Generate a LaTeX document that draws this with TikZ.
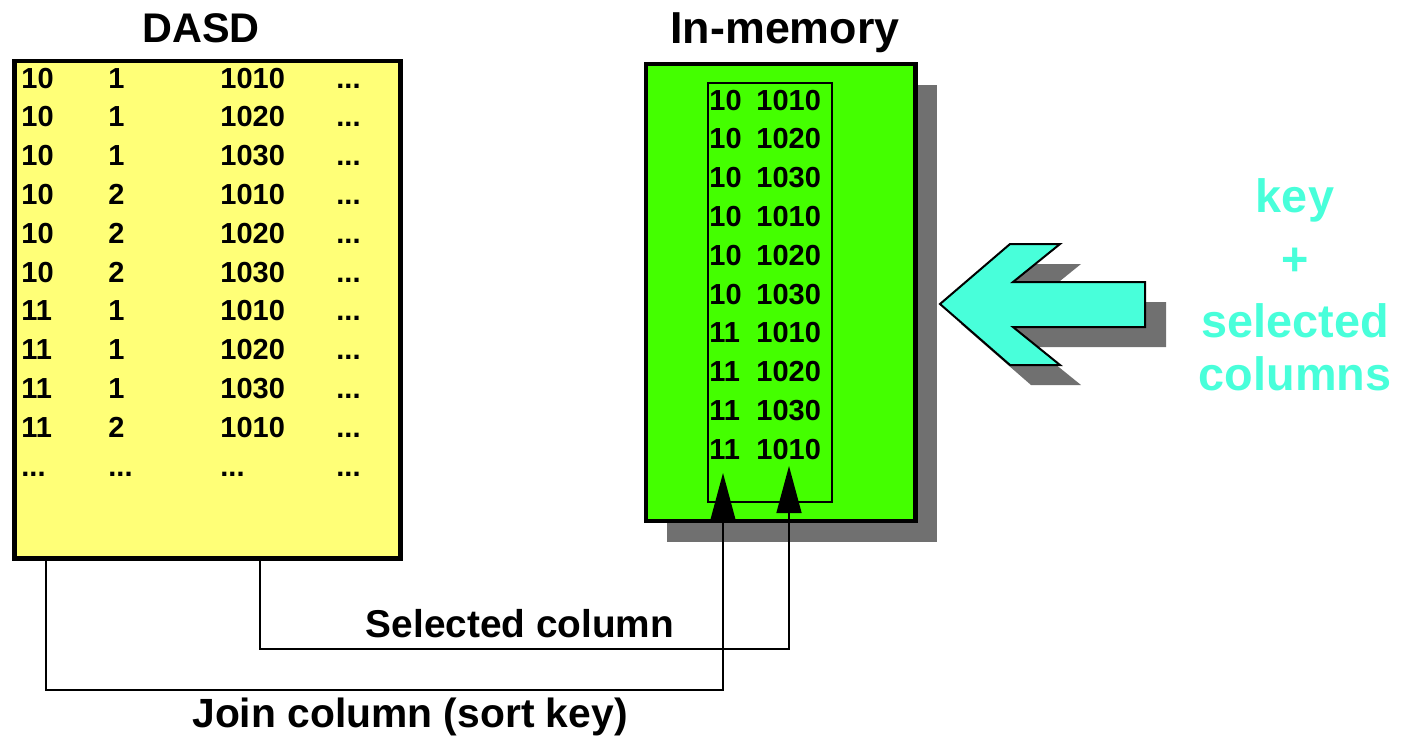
\documentclass[tikz,border=0pt]{standalone}
\usepackage{fontspec}
\setmainfont{Liberation Sans}
\usetikzlibrary{arrows.meta}
\definecolor{dasdfill}{RGB}{255,255,119}
\definecolor{memfill}{RGB}{68,255,0}
\definecolor{shadowgray}{RGB}{112,112,112}
\definecolor{aqua}{RGB}{72,255,218}
\newcommand\tdots{...}
\tikzset{
  cell/.style={anchor=base west, inner sep=0pt, font=\bfseries\fontsize{14.5}{17}\selectfont},
  title/.style={anchor=base, inner sep=0pt, font=\bfseries\fontsize{20.7}{24}\selectfont},
  bigtitle/.style={anchor=base, inner sep=0pt, font=\bfseries\fontsize{22.4}{26}\selectfont},
  label/.style={anchor=base, inner sep=0pt, font=\bfseries\fontsize{19.4}{23}\selectfont},
  biglabel/.style={anchor=base, inner sep=0pt, font=\bfseries\fontsize{20.4}{24}\selectfont},
  aqualabel/.style={anchor=base, inner sep=0pt, text=aqua, font=\bfseries\fontsize{23.4}{28}\selectfont},
  link/.style={line width=0.75pt, -{Triangle[length=23.5pt,width=12.5pt]}},
}
\begin{document}
\begin{tikzpicture}[x=0.5pt,y=-0.5pt]
\useasboundingbox (0,0) rectangle (1404,736);

% titles
\node[title] (tdasd) at (201,42) {DASD};
\node[bigtitle] (tmem) at (785,43) {In-memory};

% DASD table
\node[draw, line width=2.25pt, fill=dasdfill, inner sep=0pt,
      minimum width=193pt, minimum height=248.75pt] (dasd) at (207.5,309.75) {};
\foreach [count=\r] \a/\b/\c/\d in {
    10/1/1010/\tdots, 10/1/1020/\tdots, 10/1/1030/\tdots,
    10/2/1010/\tdots, 10/2/1020/\tdots, 10/2/1030/\tdots,
    11/1/1010/\tdots, 11/1/1020/\tdots, 11/1/1030/\tdots,
    11/2/1010/\tdots, \tdots/\tdots/\tdots/\tdots} {
  \pgfmathsetmacro\yy{88+38.8*(\r-1)}
  \node[cell] (l\r-a) at (21,\yy) {\a};
  \node[cell] (l\r-b) at (108,\yy) {\b};
  \node[cell] (l\r-c) at (220,\yy) {\c};
  \node[cell] (l\r-d) at (336,\yy) {\d};
}

% in-memory store with its shadow
\fill[shadowgray] (667,85) rectangle (936.5,542);
\node[draw, line width=2.25pt, fill=memfill, inner sep=0pt,
      minimum width=134.75pt, minimum height=228.5pt] (mem) at (780.75,292.5) {};
\node[draw, line width=0.6pt, inner sep=0pt,
      minimum width=62pt, minimum height=209.5pt] (sel) at (770,292.5) {};
\foreach [count=\r] \a/\c in {
    10/1010, 10/1020, 10/1030, 10/1010, 10/1020,
    10/1030, 11/1010, 11/1020, 11/1030, 11/1010} {
  \pgfmathsetmacro\yy{110+38.8*(\r-1)}
  \node[cell] (m\r-a) at (709,\yy) {\a};
  \node[cell] (m\r-c) at (756,\yy) {\c};
}

% big incoming arrow with its shadow
\fill[shadowgray, shift={(21,20)}]
  (940,304) -- (1010,244) -- (1060,244) -- (1013,282) -- (1145,282)
  -- (1145,327) -- (1013,327) -- (1060,365) -- (1010,365) -- cycle;
\draw[line width=1pt, fill=aqua, line join=miter]
  (940,304) -- (1010,244) -- (1060,244) -- (1013,282) -- (1145,282)
  -- (1145,327) -- (1013,327) -- (1060,365) -- (1010,365) -- cycle;

\node[aqualabel] (k1) at (1295,212) {key};
\node[aqualabel] (k2) at (1295,275) {+};
\node[aqualabel] (k3) at (1295,337) {selected};
\node[aqualabel] (k4) at (1295,390) {columns};

% connectors from DASD columns into the store
\coordinate (jx) at (46,600);
\coordinate (sx) at (260,600);
\coordinate (jtip) at (723,473);
\coordinate (stip) at (789,466);
\coordinate (jrow) at (0,690);
\coordinate (srow) at (0,649);
\draw[link] (dasd.south -| jx) |- (jtip |- jrow) -- (jtip);
\draw[link] (dasd.south -| sx) |- (stip |- srow) -- (stip);

\node[label] (lsel) at (520,637) {Selected column};
\node[biglabel] (ljoin) at (410,727) {Join column (sort key)};
\end{tikzpicture}
\end{document}
